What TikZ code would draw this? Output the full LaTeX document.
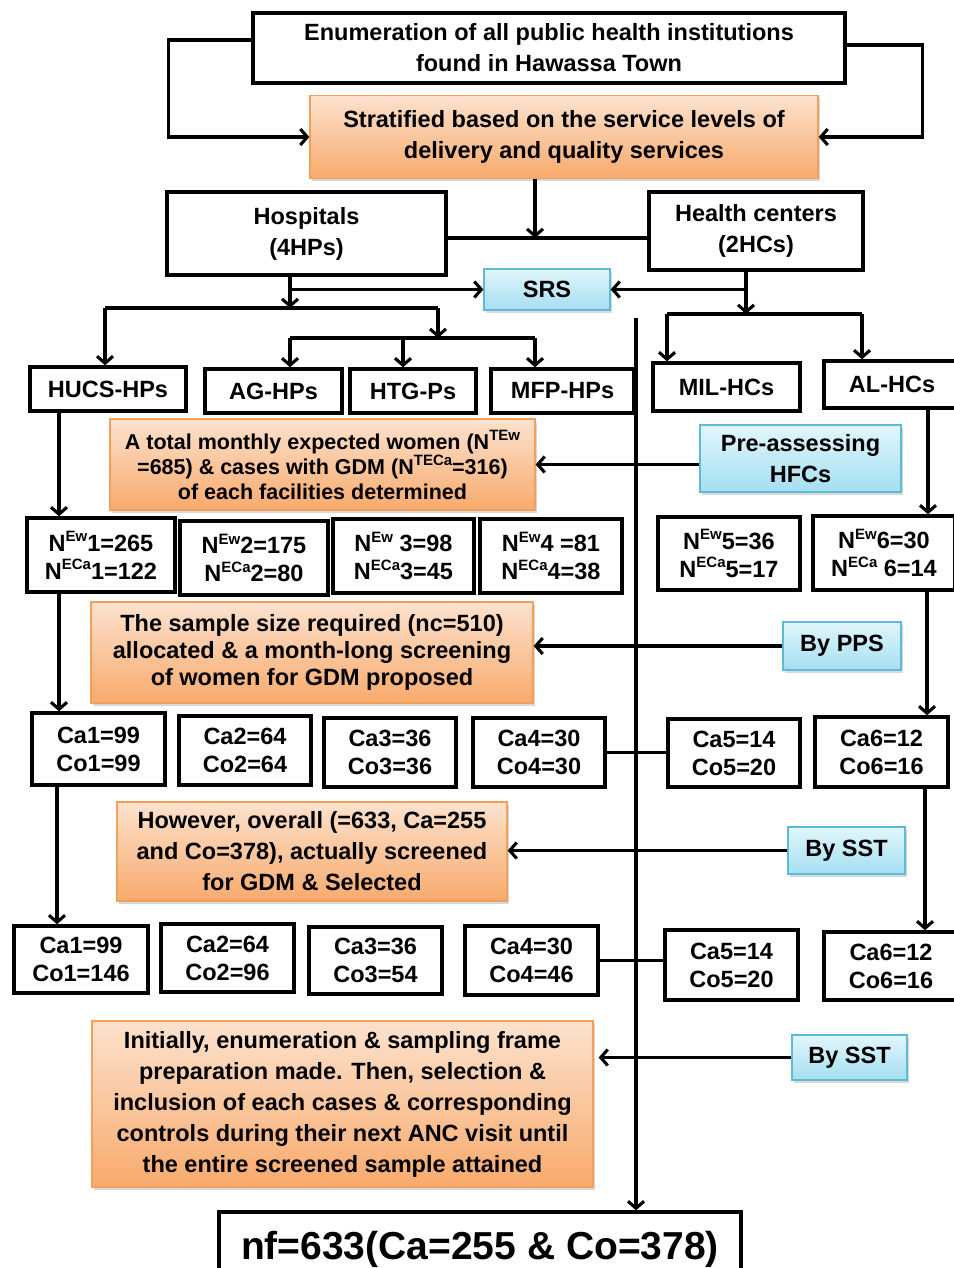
\documentclass[tikz,border=0pt]{standalone}
\usepackage{fontspec}
\setmainfont{Liberation Sans}
\usetikzlibrary{arrows.meta,shadows,calc}
\newcommand\myfs[2]{\fontsize{#1}{#2}\selectfont\bfseries}
\newcommand\sps[1]{\raisebox{0.42em}{\fontsize{15}{15}\selectfont #1}}
\definecolor{orgT}{HTML}{FCE2CE}
\definecolor{orgD}{HTML}{F8AA6C}
\definecolor{orgB}{HTML}{F2A05A}
\definecolor{bluT}{HTML}{E2F6FC}
\definecolor{bluD}{HTML}{A4DFF1}
\definecolor{bluB}{HTML}{5DBBD6}
\tikzset{
  blk/.style={draw, line width=3.4pt, fill=white, align=center, inner sep=1pt, font=\myfs{23.5}{28}},
  org/.style={draw=orgB, line width=1.3pt, top color=orgT, bottom color=orgD, align=center, inner sep=1pt,
     drop shadow={shadow xshift=2pt, shadow yshift=-3pt, opacity=0.3}, font=\myfs{23.5}{31}},
  blu/.style={draw=bluB, line width=1.3pt, top color=bluT, bottom color=bluD, align=center, inner sep=1pt,
     drop shadow={shadow xshift=2pt, shadow yshift=-3pt, opacity=0.3}, font=\myfs{23.5}{31}},
  conn/.style={draw, line width=3.1pt},
  arrw/.style={draw, line width=3.1pt, -{Straight Barb[length=7pt,width=16pt]}},
}
\begin{document}
\begin{tikzpicture}[x=1pt,y=-1pt]
\useasboundingbox (0,0) rectangle (953,1268);
\fill[white] (0,0) rectangle (953,1268);
% top
\node[blk, minimum width=592, minimum height=70, font=\myfs{23.5}{31}] (enum) at (549,48) {Enumeration of all public health institutions\\found in Hawassa Town};
\node[org, minimum width=508, minimum height=83] (strat) at (564,137) {Stratified based on the service levels of\\delivery and quality services};
\node[blk, minimum width=279, minimum height=83, font=\myfs{23.5}{31}] (hosp) at (306.5,233.5) {Hospitals\\(4HPs)};
\node[blk, minimum width=214, minimum height=78, font=\myfs{23.5}{31}] (hc) at (756,231) {Health centers\\(2HCs)};
\node[blu, minimum width=126, minimum height=41] (srs) at (547,289.5) {SRS};
% level boxes
\node[blk, minimum width=156, minimum height=44] (hucs) at (108,389) {HUCS-HPs};
\node[blk, minimum width=137, minimum height=44] (ag) at (273.5,391) {AG-HPs};
\node[blk, minimum width=126, minimum height=44] (htg) at (413,391) {HTG-Ps};
\node[blk, minimum width=143, minimum height=44] (mfp) at (562.5,391) {MFP-HPs};
\node[blk, minimum width=147, minimum height=48] (mil) at (726.5,387) {MIL-HCs};
\node[blk, minimum width=136, minimum height=47] (al) at (892,384.5) {AL-HCs};
% expected
\node[org, minimum width=425, minimum height=91, font=\myfs{21.5}{25}] (o1) at (322.5,464.5) {A total monthly expected women (N\sps{TEw}\\=685) \& cases with GDM (N\sps{TECa}=316)\\of each facilities determined};
\node[blu, minimum width=201, minimum height=67] (pre) at (800.5,458.5) {Pre-assessing\\HFCs};
\node[blk, minimum width=148, minimum height=74] (n1) at (101,555) {N\sps{Ew}1=265\\N\sps{ECa}1=122};
\node[blk, minimum width=148, minimum height=74] (n2) at (254,558) {N\sps{Ew}2=175\\N\sps{ECa}2=80};
\node[blk, minimum width=141, minimum height=74] (n3) at (403.5,556) {N\sps{Ew} 3=98\\N\sps{ECa}3=45};
\node[blk, minimum width=142, minimum height=74] (n4) at (551,556) {N\sps{Ew}4 =81\\N\sps{ECa}4=38};
\node[blk, minimum width=142, minimum height=73] (n5) at (729,553.5) {N\sps{Ew}5=36\\N\sps{ECa}5=17};
\node[blk, minimum width=142, minimum height=74] (n6) at (884,553) {N\sps{Ew}6=30\\N\sps{ECa} 6=14};
% sample size
\node[org, minimum width=442, minimum height=101, font=\myfs{23.5}{27}] (o2) at (312,652.5) {The sample size required (nc=510)\\allocated \& a month-long screening\\of women for GDM proposed};
\node[blu, minimum width=118, minimum height=48] (pps) at (842,646) {By PPS};
\node[blk, minimum width=133, minimum height=72] (a1) at (98.5,749) {Ca1=99\\Co1=99};
\node[blk, minimum width=132, minimum height=69] (a2) at (245,750.5) {Ca2=64\\Co2=64};
\node[blk, minimum width=132, minimum height=69] (a3) at (390,752.5) {Ca3=36\\Co3=36};
\node[blk, minimum width=132, minimum height=69] (a4) at (539,752.5) {Ca4=30\\Co4=30};
\node[blk, minimum width=132, minimum height=68] (a5) at (734,753) {Ca5=14\\Co5=20};
\node[blk, minimum width=133, minimum height=70] (a6) at (881.5,752) {Ca6=12\\Co6=16};
% overall
\node[org, minimum width=390, minimum height=99] (o3) at (312,851.5) {However, overall (=633, Ca=255\\and Co=378), actually screened\\for GDM \& Selected};
\node[blu, minimum width=117, minimum height=47] (sst1) at (846.5,850.5) {By SST};
\node[blk, minimum width=134, minimum height=67] (b1) at (81,959.5) {Ca1=99\\Co1=146};
\node[blk, minimum width=133, minimum height=68] (b2) at (227.5,958) {Ca2=64\\Co2=96};
\node[blk, minimum width=133, minimum height=67] (b3) at (375.5,960.5) {Ca3=36\\Co3=54};
\node[blk, minimum width=133, minimum height=69] (b4) at (531.5,960.5) {Ca4=30\\Co4=46};
\node[blk, minimum width=133, minimum height=70] (b5) at (731.5,965) {Ca5=14\\Co5=20};
\node[blk, minimum width=134, minimum height=68] (b6) at (891,966) {Ca6=12\\Co6=16};
% final
\node[org, minimum width=501, minimum height=166] (o4) at (342.5,1104) {Initially, enumeration \& sampling frame\\preparation made. Then, selection \&\\inclusion of each cases \& corresponding\\controls during their next ANC visit until\\the entire screened sample attained};
\node[blu, minimum width=115, minimum height=45] (sst2) at (849.5,1057.5) {By SST};
\node[blk, minimum width=522, minimum height=78, font=\myfs{39}{44}, text depth=0pt] (nf) at (480,1251) {\raisebox{11pt}{nf=633(Ca=255 \& Co=378)}};
% connectors top
\draw[arrw] ([yshift=8pt]enum.west) -- ++(-83,0) |- (strat.west);
\draw[arrw] ([yshift=3pt]enum.east) -- ++(76,0) |- (strat.east);
\coordinate (j1) at (535,238);
\draw[conn] (j1 -| hosp.east) -- (j1 -| hc.west);
\draw[arrw] (j1 |- strat.south) -- (j1);
% hospitals branch
\coordinate (hd) at (290,308);
\draw[arrw] (hd |- hosp.south) -- (hd);
\draw[arrw] (hd |- srs.west) -- (srs.west);
\coordinate (hd2) at (438,338);
\draw[conn] ([xshift=-3pt]hucs.north |- hd) -- (hd -| hd2);
\draw[arrw] ([xshift=-3pt]hucs.north |- hd) -- ([xshift=-3pt]hucs.north);
\draw[arrw] (hd -| hd2) -- (hd2);
\draw[conn] ([xshift=16.5pt]ag.north |- hd2) -- ([xshift=-27.5pt]mfp.north |- hd2);
\draw[arrw] ([xshift=16.5pt]ag.north |- hd2) -- ([xshift=16.5pt]ag.north);
\draw[arrw] ([xshift=-10pt]htg.north |- hd2) -- ([xshift=-10pt]htg.north);
\draw[arrw] ([xshift=-27.5pt]mfp.north |- hd2) -- ([xshift=-27.5pt]mfp.north);
% health centers branch
\coordinate (cd) at (746,314);
\draw[arrw] (cd |- hc.south) -- (cd);
\draw[arrw] (cd |- srs.east) -- (srs.east);
\draw[conn] ([xshift=-59.5pt]mil.north |- cd) -- ([xshift=-30pt]al.north |- cd);
\draw[arrw] ([xshift=-59.5pt]mil.north |- cd) -- ([xshift=-59.5pt]mil.north);
\draw[arrw] ([xshift=-30pt]al.north |- cd) -- ([xshift=-30pt]al.north);
% central vertical
\coordinate (vtop) at (636,318);
\draw[arrw] (vtop) -- (vtop |- nf.north);
% side verticals
\draw[arrw] ([xshift=-49pt]hucs.south) -- ([xshift=-49pt]hucs.south |- n1.north);
\draw[arrw] ([xshift=36pt]al.south) -- ([xshift=36pt]al.south |- n6.north);
\draw[arrw] ([xshift=-42pt]n1.south) -- ([xshift=-42pt]n1.south |- a1.north);
\draw[arrw] ([xshift=43pt]n6.south) -- ([xshift=43pt]n6.south |- a6.north);
\draw[arrw] ([xshift=-41.5pt]a1.south) -- ([xshift=-41.5pt]a1.south |- b1.north);
\draw[arrw] ([xshift=43.5pt]a6.south) -- ([xshift=43.5pt]a6.south |- b6.north);
% horizontal method arrows
\draw[arrw] (o1.east -| pre.west) -- (o1.east);
\draw[arrw] (pps.west) -- (pps.west -| o2.east);
\draw[arrw] (sst1.west) -- (sst1.west -| o3.east);
\draw[arrw] (sst2.west) -- ([xshift=5pt]sst2.west -| o4.east);
% Ca4-Ca5 links
\draw[conn] (a4.east) -- (a4.east -| a5.west);
\draw[conn] (b4.east) -- (b4.east -| b5.west);
\end{tikzpicture}
\end{document}
